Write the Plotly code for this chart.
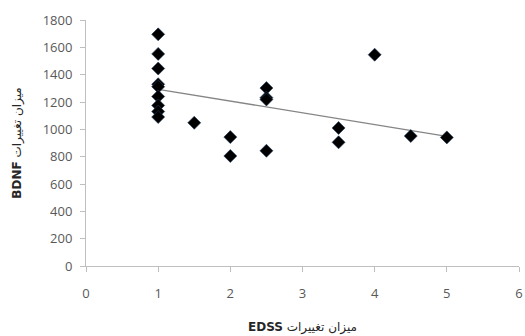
import plotly.graph_objects as go

edss = [1, 1, 1, 1, 1, 1, 1, 1, 1, 1.5, 2, 2, 2.5, 2.5, 2.5, 2.5, 3.5, 3.5, 4, 4.5, 5]
bdnf = [1695, 1552, 1445, 1330, 1312, 1240, 1175, 1130, 1090, 1048, 943, 805, 1302, 1232, 1218, 843, 1010, 905, 1546, 951, 941]

# linear trend line
trend_x = [1, 5]
trend_y = [1293, 949]

x_ticks = [0, 1, 2, 3, 4, 5, 6]
y_ticks = [0, 200, 400, 600, 800, 1000, 1200, 1400, 1600, 1800]

fig = go.Figure()
fig.add_trace(go.Scatter(x=trend_x, y=trend_y, mode="lines",
                         line=dict(color="#858585", width=1.3), hoverinfo="skip"))
fig.add_trace(go.Scatter(x=edss, y=bdnf, mode="markers",
                         marker=dict(symbol="diamond", size=10, color="black",
                                     line=dict(color="#1f3b5c", width=0.6))))

tick_font = dict(family="Open Sans, Lato, sans-serif", size=13, color="#595959")
title_font = dict(family="DejaVu Sans, Noto Sans, sans-serif", size=12, color="#262626")
fig.update_layout(
    width=525, height=336,
    margin=dict(l=86, r=6, t=20, b=70, autoexpand=False),
    paper_bgcolor="white", plot_bgcolor="white",
    showlegend=False,
    xaxis=dict(range=[0, 6], tickvals=x_ticks, showgrid=False, zeroline=False,
               showline=True, linecolor="#bfbfbf", linewidth=1,
               ticks="outside", ticklen=5, tickcolor="#bfbfbf",
               tickfont=tick_font, ticklabelstandoff=10,
               title=dict(text="<b>EDSS</b> میزان تغییرات", font=title_font,
                          standoff=22)),
    yaxis=dict(range=[0, 1800], tickvals=y_ticks, showgrid=False, zeroline=False,
               showline=True, linecolor="#bfbfbf", linewidth=1,
               ticks="outside", ticklen=5, tickcolor="#bfbfbf",
               tickfont=tick_font, ticklabelstandoff=5,
               title=dict(text="<b>BDNF</b> میزان تغییرات", font=title_font,
                          standoff=18)),
)
fig.write_html("out.html", config={"displayModeBar": False},
               post_script="document.body.style.margin='0';document.body.style.overflow='hidden';")
